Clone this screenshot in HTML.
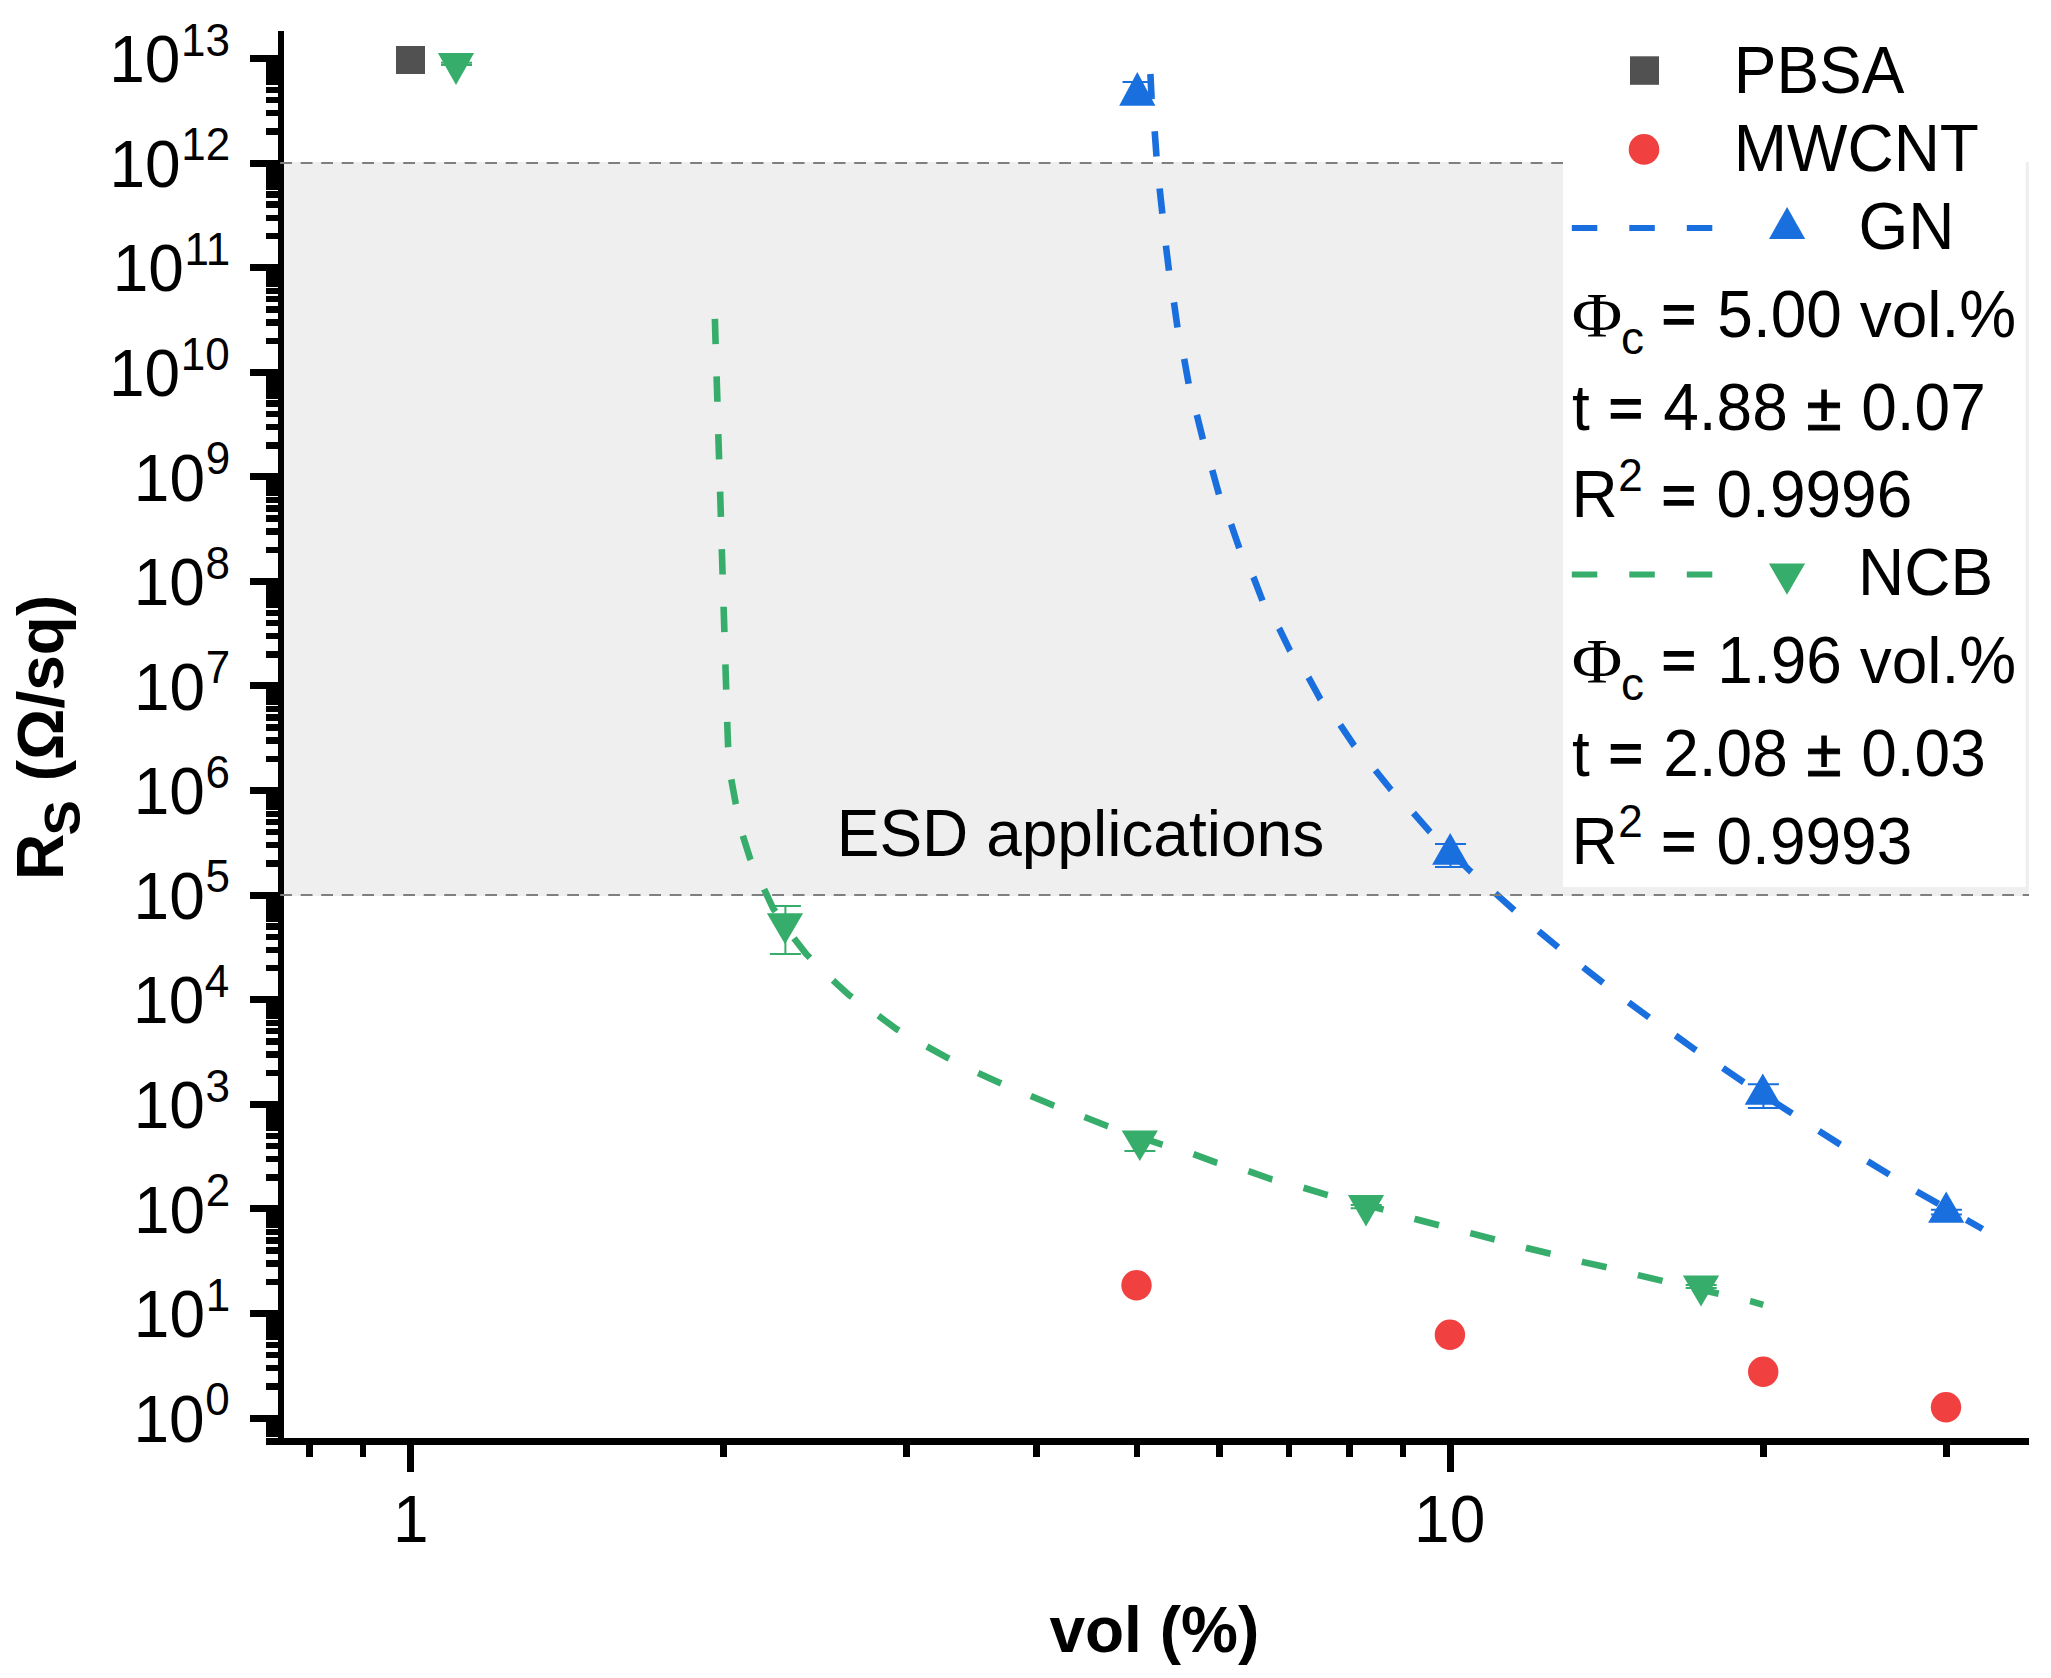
<!DOCTYPE html>
<html lang="en"><head><meta charset="utf-8"><title>Rs vs vol%</title>
<style>
html,body{margin:0;padding:0;background:#fff;}
body{width:2051px;height:1678px;overflow:hidden;}
svg{display:block;}
text{font-family:"Liberation Sans",Arial,sans-serif;fill:#000;}
.b{font-weight:bold;}
.sym{font-family:"Liberation Serif","Times New Roman",serif;}
</style></head><body>
<svg width="2051" height="1678" viewBox="0 0 2051 1678">
<rect x="0" y="0" width="2051" height="1678" fill="#fff"/>
<rect x="284" y="162" width="1745" height="734" fill="#EFEFEF"/>
<path d="M1150.4 74.0 L1151.6 98.0 L1154.7 131.5 L1156.5 156.5 L1159.7 189.1 L1162.4 214.1 L1166.0 246.3 L1169.0 271.0 L1174.0 302.8 L1177.6 328.2 L1184.3 359.6 L1188.7 384.0 L1197.1 415.9 L1203.0 439.7 L1212.6 471.3 L1219.1 494.9 L1231.3 524.9 L1239.4 548.5 L1253.7 577.7 L1262.6 600.9 L1279.6 629.2 L1290.0 650.6 L1308.5 677.4 L1320.4 699.2 L1340.0 724.5 L1354.0 745.4 L1375.0 769.8 L1390.6 789.2 L1413.0 812.5 L1429.8 831.7 L1470.7 871.5 L1496.3 894.1 L1514.6 910.5 L1540.3 932.6 L1559.7 948.6 L1585.9 969.3 L1604.9 984.3 L1630.0 1003.3 L1650.3 1018.3 L1676.2 1036.0 L1695.0 1049.6 L1722.8 1067.9 L1743.7 1082.2 L1791.0 1112.7 L1819.8 1131.6 L1840.0 1144.4 L1868.6 1161.9 L1889.6 1174.7 L1917.4 1191.8 L1982.5 1229.0" fill="none" stroke="#1A6FDF" stroke-width="6.6" stroke-dasharray="25.3 32.12" stroke-linecap="butt" stroke-linejoin="round"/>
<path d="M714.9 318.9 L715.6 344.0 L716.6 376.4 L717.4 401.8 L718.3 434.3 L719.1 459.3 L720.1 491.8 L720.9 516.8 L721.8 549.3 L722.6 574.6 L723.6 607.1 L724.4 631.9 L725.4 664.4 L726.2 689.4 L727.2 721.9 L728.1 746.9 L731.1 778.4 L735.6 802.9 L742.2 833.7 L749.9 858.0 L762.9 886.6 L773.1 908.4 L791.0 934.3 L806.2 954.0 L829.5 977.2 L849.1 995.1 L875.9 1013.9 L896.5 1029.1 L925.6 1045.8 L947.5 1057.8 L977.5 1072.6 L1000.0 1082.9 L1030.4 1095.8 L1053.1 1105.3 L1084.5 1117.0 L1107.2 1126.0 L1162.1 1144.6 L1193.3 1154.1 L1216.4 1162.6 L1248.1 1171.1 L1271.3 1179.2 L1303.0 1187.6 L1326.9 1194.8 L1383.6 1209.7 L1415.1 1219.0 L1440.2 1225.6 L1471.4 1233.4 L1495.8 1239.7 L1526.7 1248.0 L1552.3 1254.1 L1583.5 1262.1 L1608.9 1267.7 L1638.1 1275.1 L1662.5 1280.9 L1719.3 1293.8 L1750.5 1301.1 L1763.2 1304.8" fill="none" stroke="#37AD6B" stroke-width="6.6" stroke-dasharray="25.3 32.3" stroke-linecap="butt" stroke-linejoin="round"/>
<rect x="396" y="46" width="29" height="28" fill="#515151"/>
<circle cx="1136.5" cy="1285.2" r="15.2" fill="#F14040"/>
<circle cx="1449.9" cy="1334.8" r="15.2" fill="#F14040"/>
<circle cx="1763.2" cy="1371.8" r="15.2" fill="#F14040"/>
<circle cx="1946.0" cy="1407.2" r="15.2" fill="#F14040"/>
<path d="M1122.5 82.0 H1153.5 M1122.5 104.0 H1153.5 M1138.0 82.0 V104.0" stroke="#1A6FDF" stroke-width="2" fill="none"/>
<path d="M1137.3 72.0 L1155.4 105.8 L1119.2 105.8 Z" fill="#1A6FDF"/>
<path d="M1435.0 843.9 H1466.0 M1435.0 867.0 H1466.0 M1450.5 843.9 V867.0" stroke="#1A6FDF" stroke-width="2" fill="none"/>
<path d="M1450.2 833.1 L1468.3 864.8 L1432.1 864.8 Z" fill="#1A6FDF"/>
<path d="M1747.9 1084.2 H1778.9 M1747.9 1107.9 H1778.9 M1763.4 1084.2 V1107.9" stroke="#1A6FDF" stroke-width="2" fill="none"/>
<path d="M1762.8 1073.4 L1780.9 1104.7 L1744.7 1104.7 Z" fill="#1A6FDF"/>
<path d="M1930.9 1209.8 H1961.9 M1930.9 1214.6 H1961.9 M1946.4 1209.8 V1214.6" stroke="#1A6FDF" stroke-width="2" fill="none"/>
<path d="M1946.2 1191.5 L1964.3 1222.8 L1928.1 1222.8 Z" fill="#1A6FDF"/>
<path d="M441.0 62.8 H472.0 M441.0 65.0 H472.0 M456.5 62.8 V65.0" stroke="#37AD6B" stroke-width="2" fill="none"/>
<path d="M437.9 53.0 L474.1 53.0 L456.0 84.9 Z" fill="#37AD6B"/>
<path d="M769.9 906.0 H800.9 M769.9 954.0 H800.9 M785.4 906.0 V954.0" stroke="#37AD6B" stroke-width="2" fill="none"/>
<path d="M766.9 913.2 L803.1 913.2 L785.0 944.2 Z" fill="#37AD6B"/>
<path d="M1124.4 1132.0 H1155.4 M1124.4 1150.9 H1155.4 M1139.9 1132.0 V1150.9" stroke="#37AD6B" stroke-width="2" fill="none"/>
<path d="M1121.7 1130.4 L1157.9 1130.4 L1139.8 1160.9 Z" fill="#37AD6B"/>
<path d="M1350.7 1205.0 H1381.7 M1350.7 1208.3 H1381.7 M1366.2 1205.0 V1208.3" stroke="#37AD6B" stroke-width="2" fill="none"/>
<path d="M1347.9 1195.0 L1384.1 1195.0 L1366.0 1226.5 Z" fill="#37AD6B"/>
<path d="M1685.7 1285.0 H1716.7 M1685.7 1288.0 H1716.7 M1701.2 1285.0 V1288.0" stroke="#37AD6B" stroke-width="2" fill="none"/>
<path d="M1682.9 1275.5 L1719.1 1275.5 L1701.0 1306.5 Z" fill="#37AD6B"/>
<text font-size="64" transform="translate(836.75 856.20) scale(1 1.045)">ESD</text>
<text font-size="64" transform="translate(986.14 856.20) scale(1 1)">applications</text>
<g fill="#000" shape-rendering="crispEdges">
<rect x="278" y="31" width="6" height="1414"/>
<rect x="266" y="1438" width="1763" height="7"/>
<rect x="250" y="55.00" width="30" height="7.00"/>
<rect x="266" y="128.35" width="14" height="6.50"/>
<rect x="266" y="109.93" width="14" height="6.50"/>
<rect x="266" y="96.87" width="14" height="6.50"/>
<rect x="266" y="86.73" width="14" height="6.50"/>
<rect x="266" y="78.45" width="14" height="6.50"/>
<rect x="266" y="71.45" width="14" height="6.50"/>
<rect x="266" y="65.38" width="14" height="6.50"/>
<rect x="266" y="60.04" width="14" height="6.50"/>
<rect x="250" y="159.58" width="30" height="7.00"/>
<rect x="266" y="232.93" width="14" height="6.50"/>
<rect x="266" y="214.51" width="14" height="6.50"/>
<rect x="266" y="201.45" width="14" height="6.50"/>
<rect x="266" y="191.31" width="14" height="6.50"/>
<rect x="266" y="183.03" width="14" height="6.50"/>
<rect x="266" y="176.03" width="14" height="6.50"/>
<rect x="266" y="169.96" width="14" height="6.50"/>
<rect x="266" y="164.62" width="14" height="6.50"/>
<rect x="250" y="264.16" width="30" height="7.00"/>
<rect x="266" y="337.51" width="14" height="6.50"/>
<rect x="266" y="319.09" width="14" height="6.50"/>
<rect x="266" y="306.03" width="14" height="6.50"/>
<rect x="266" y="295.89" width="14" height="6.50"/>
<rect x="266" y="287.61" width="14" height="6.50"/>
<rect x="266" y="280.61" width="14" height="6.50"/>
<rect x="266" y="274.54" width="14" height="6.50"/>
<rect x="266" y="269.20" width="14" height="6.50"/>
<rect x="250" y="368.74" width="30" height="7.00"/>
<rect x="266" y="442.09" width="14" height="6.50"/>
<rect x="266" y="423.67" width="14" height="6.50"/>
<rect x="266" y="410.61" width="14" height="6.50"/>
<rect x="266" y="400.47" width="14" height="6.50"/>
<rect x="266" y="392.19" width="14" height="6.50"/>
<rect x="266" y="385.19" width="14" height="6.50"/>
<rect x="266" y="379.12" width="14" height="6.50"/>
<rect x="266" y="373.78" width="14" height="6.50"/>
<rect x="250" y="473.32" width="30" height="7.00"/>
<rect x="266" y="546.67" width="14" height="6.50"/>
<rect x="266" y="528.25" width="14" height="6.50"/>
<rect x="266" y="515.19" width="14" height="6.50"/>
<rect x="266" y="505.05" width="14" height="6.50"/>
<rect x="266" y="496.77" width="14" height="6.50"/>
<rect x="266" y="489.77" width="14" height="6.50"/>
<rect x="266" y="483.70" width="14" height="6.50"/>
<rect x="266" y="478.36" width="14" height="6.50"/>
<rect x="250" y="577.90" width="30" height="7.00"/>
<rect x="266" y="651.25" width="14" height="6.50"/>
<rect x="266" y="632.83" width="14" height="6.50"/>
<rect x="266" y="619.77" width="14" height="6.50"/>
<rect x="266" y="609.63" width="14" height="6.50"/>
<rect x="266" y="601.35" width="14" height="6.50"/>
<rect x="266" y="594.35" width="14" height="6.50"/>
<rect x="266" y="588.28" width="14" height="6.50"/>
<rect x="266" y="582.94" width="14" height="6.50"/>
<rect x="250" y="682.48" width="30" height="7.00"/>
<rect x="266" y="755.83" width="14" height="6.50"/>
<rect x="266" y="737.41" width="14" height="6.50"/>
<rect x="266" y="724.35" width="14" height="6.50"/>
<rect x="266" y="714.21" width="14" height="6.50"/>
<rect x="266" y="705.93" width="14" height="6.50"/>
<rect x="266" y="698.93" width="14" height="6.50"/>
<rect x="266" y="692.86" width="14" height="6.50"/>
<rect x="266" y="687.52" width="14" height="6.50"/>
<rect x="250" y="787.06" width="30" height="7.00"/>
<rect x="266" y="860.41" width="14" height="6.50"/>
<rect x="266" y="841.99" width="14" height="6.50"/>
<rect x="266" y="828.93" width="14" height="6.50"/>
<rect x="266" y="818.79" width="14" height="6.50"/>
<rect x="266" y="810.51" width="14" height="6.50"/>
<rect x="266" y="803.51" width="14" height="6.50"/>
<rect x="266" y="797.44" width="14" height="6.50"/>
<rect x="266" y="792.10" width="14" height="6.50"/>
<rect x="250" y="891.64" width="30" height="7.00"/>
<rect x="266" y="964.99" width="14" height="6.50"/>
<rect x="266" y="946.57" width="14" height="6.50"/>
<rect x="266" y="933.51" width="14" height="6.50"/>
<rect x="266" y="923.37" width="14" height="6.50"/>
<rect x="266" y="915.09" width="14" height="6.50"/>
<rect x="266" y="908.09" width="14" height="6.50"/>
<rect x="266" y="902.02" width="14" height="6.50"/>
<rect x="266" y="896.68" width="14" height="6.50"/>
<rect x="250" y="996.22" width="30" height="7.00"/>
<rect x="266" y="1069.57" width="14" height="6.50"/>
<rect x="266" y="1051.15" width="14" height="6.50"/>
<rect x="266" y="1038.09" width="14" height="6.50"/>
<rect x="266" y="1027.95" width="14" height="6.50"/>
<rect x="266" y="1019.67" width="14" height="6.50"/>
<rect x="266" y="1012.67" width="14" height="6.50"/>
<rect x="266" y="1006.60" width="14" height="6.50"/>
<rect x="266" y="1001.26" width="14" height="6.50"/>
<rect x="250" y="1100.80" width="30" height="7.00"/>
<rect x="266" y="1174.15" width="14" height="6.50"/>
<rect x="266" y="1155.73" width="14" height="6.50"/>
<rect x="266" y="1142.67" width="14" height="6.50"/>
<rect x="266" y="1132.53" width="14" height="6.50"/>
<rect x="266" y="1124.25" width="14" height="6.50"/>
<rect x="266" y="1117.25" width="14" height="6.50"/>
<rect x="266" y="1111.18" width="14" height="6.50"/>
<rect x="266" y="1105.84" width="14" height="6.50"/>
<rect x="250" y="1205.38" width="30" height="7.00"/>
<rect x="266" y="1278.73" width="14" height="6.50"/>
<rect x="266" y="1260.31" width="14" height="6.50"/>
<rect x="266" y="1247.25" width="14" height="6.50"/>
<rect x="266" y="1237.11" width="14" height="6.50"/>
<rect x="266" y="1228.83" width="14" height="6.50"/>
<rect x="266" y="1221.83" width="14" height="6.50"/>
<rect x="266" y="1215.76" width="14" height="6.50"/>
<rect x="266" y="1210.42" width="14" height="6.50"/>
<rect x="250" y="1309.96" width="30" height="7.00"/>
<rect x="266" y="1383.31" width="14" height="6.50"/>
<rect x="266" y="1364.89" width="14" height="6.50"/>
<rect x="266" y="1351.83" width="14" height="6.50"/>
<rect x="266" y="1341.69" width="14" height="6.50"/>
<rect x="266" y="1333.41" width="14" height="6.50"/>
<rect x="266" y="1326.41" width="14" height="6.50"/>
<rect x="266" y="1320.34" width="14" height="6.50"/>
<rect x="266" y="1315.00" width="14" height="6.50"/>
<rect x="250" y="1414.54" width="30" height="7.00"/>
<rect x="266" y="1430.99" width="14" height="6.50"/>
<rect x="266" y="1424.92" width="14" height="6.50"/>
<rect x="266" y="1419.58" width="14" height="6.50"/>
<rect x="306.31" y="1440" width="6.4" height="17"/>
<rect x="359.51" y="1440" width="6.4" height="17"/>
<rect x="407.10" y="1440" width="6.4" height="32"/>
<rect x="720.17" y="1440" width="6.4" height="17"/>
<rect x="903.31" y="1440" width="6.4" height="17"/>
<rect x="1033.24" y="1440" width="6.4" height="17"/>
<rect x="1134.03" y="1440" width="6.4" height="17"/>
<rect x="1216.38" y="1440" width="6.4" height="17"/>
<rect x="1286.00" y="1440" width="6.4" height="17"/>
<rect x="1346.31" y="1440" width="6.4" height="17"/>
<rect x="1399.51" y="1440" width="6.4" height="17"/>
<rect x="1447.10" y="1440" width="6.4" height="32"/>
<rect x="1760.17" y="1440" width="6.4" height="17"/>
<rect x="1943.31" y="1440" width="6.4" height="17"/>
</g>
<path d="M280.2 163 H1563" stroke="#7F7F7F" stroke-width="2" stroke-dasharray="11.8 8.7" fill="none"/>
<path d="M280.2 895 H2029" stroke="#7F7F7F" stroke-width="2" stroke-dasharray="11.8 8.7" fill="none"/>
<rect x="1563" y="30" width="462.6" height="857" fill="#fff"/>
<rect x="1630" y="56.3" width="29" height="28.5" fill="#515151"/>
<text font-size="64" transform="translate(1733.75 92.90) scale(1 1.045)">PBSA</text>
<circle cx="1644" cy="149.4" r="15.3" fill="#F14040"/>
<text font-size="64" transform="translate(1733.75 171.00) scale(1 1.045)">MWCNT</text>
<path d="M1571.8 228 H1717" stroke="#1A6FDF" stroke-width="6" stroke-dasharray="25.5 32" fill="none"/>
<path d="M1787.1 206.9 L1805.2 239.0 L1769.0 239.0 Z" fill="#1A6FDF"/>
<text font-size="64" transform="translate(1858.40 249.20) scale(1 1.045)">GN</text>
<text class="sym" font-size="64" transform="translate(1571.63 336.80) scale(1.08 1)">Φ</text>
<text font-size="46" transform="translate(1620.97 353.60) scale(1 1)">c</text>
<text class="b" font-size="64" transform="translate(1661.37 331.97) scale(0.94 0.82)">=</text>
<text font-size="64" transform="translate(1717.34 336.60) scale(1 1.045)">5.00</text>
<text font-size="64" transform="translate(1859.70 336.60) scale(1 1)">vol.</text>
<text font-size="64" transform="translate(1959.28 336.60) scale(1 1.045)">%</text>
<text font-size="64" transform="translate(1571.88 430.40) scale(1 1)">t</text>
<text class="b" font-size="64" transform="translate(1608.27 425.77) scale(0.94 0.82)">=</text>
<text font-size="64" transform="translate(1663.19 430.40) scale(1 1.045)">4.88</text>
<text font-size="64" transform="translate(1806.45 430.40) scale(1 1.045)" stroke="#000" stroke-width="0.9">±</text>
<text font-size="64" transform="translate(1861.24 430.40) scale(1 1.045)">0.07</text>
<text font-size="64" transform="translate(1571.60 517.30) scale(1 1.045)">R</text>
<text font-size="44" transform="translate(1618.20 490.90) scale(1 1.045)">2</text>
<text class="b" font-size="64" transform="translate(1661.17 512.67) scale(0.94 0.82)">=</text>
<text font-size="64" transform="translate(1716.54 517.30) scale(1 1.045)">0.9996</text>
<path d="M1571.8 574.5 H1717" stroke="#37AD6B" stroke-width="6" stroke-dasharray="25.5 32" fill="none"/>
<path d="M1768.9 563.6 L1805.1 563.6 L1787.0 594.8 Z" fill="#37AD6B"/>
<text font-size="64" transform="translate(1858.05 595.40) scale(1 1.045)">NCB</text>
<text class="sym" font-size="64" transform="translate(1571.63 682.90) scale(1.08 1)">Φ</text>
<text font-size="46" transform="translate(1620.97 699.70) scale(1 1)">c</text>
<text class="b" font-size="64" transform="translate(1661.37 678.07) scale(0.94 0.82)">=</text>
<text font-size="64" transform="translate(1717.34 682.70) scale(1 1.045)">1.96</text>
<text font-size="64" transform="translate(1859.70 682.70) scale(1 1)">vol.</text>
<text font-size="64" transform="translate(1959.28 682.70) scale(1 1.045)">%</text>
<text font-size="64" transform="translate(1571.88 775.60) scale(1 1)">t</text>
<text class="b" font-size="64" transform="translate(1608.27 770.97) scale(0.94 0.82)">=</text>
<text font-size="64" transform="translate(1663.19 775.60) scale(1 1.045)">2.08</text>
<text font-size="64" transform="translate(1806.45 775.60) scale(1 1.045)" stroke="#000" stroke-width="0.9">±</text>
<text font-size="64" transform="translate(1861.24 775.60) scale(1 1.045)">0.03</text>
<text font-size="64" transform="translate(1571.60 863.50) scale(1 1.045)">R</text>
<text font-size="44" transform="translate(1618.20 837.10) scale(1 1.045)">2</text>
<text class="b" font-size="64" transform="translate(1661.17 858.87) scale(0.94 0.82)">=</text>
<text font-size="64" transform="translate(1716.54 863.50) scale(1 1.045)">0.9993</text>
<text font-size="44" transform="translate(181.01 55.80) scale(1 1.045)">13</text>
<text text-anchor="end" font-size="64" transform="translate(180.41 82.20) scale(1 1.045)">10</text>
<text font-size="44" transform="translate(181.27 160.38) scale(1 1.045)">12</text>
<text text-anchor="end" font-size="64" transform="translate(180.67 186.78) scale(1 1.045)">10</text>
<text font-size="44" transform="translate(184.44 264.96) scale(1 1.045)">11</text>
<text text-anchor="end" font-size="64" transform="translate(183.84 291.36) scale(1 1.045)">10</text>
<text font-size="44" transform="translate(180.74 369.54) scale(1 1.045)">10</text>
<text text-anchor="end" font-size="64" transform="translate(180.14 395.94) scale(1 1.045)">10</text>
<text font-size="44" transform="translate(205.65 474.12) scale(1 1.045)">9</text>
<text text-anchor="end" font-size="64" transform="translate(205.05 500.52) scale(1 1.045)">10</text>
<text font-size="44" transform="translate(205.47 578.70) scale(1 1.045)">8</text>
<text text-anchor="end" font-size="64" transform="translate(204.87 605.10) scale(1 1.045)">10</text>
<text font-size="44" transform="translate(205.74 683.28) scale(1 1.045)">7</text>
<text text-anchor="end" font-size="64" transform="translate(205.14 709.68) scale(1 1.045)">10</text>
<text font-size="44" transform="translate(205.47 787.86) scale(1 1.045)">6</text>
<text text-anchor="end" font-size="64" transform="translate(204.87 814.26) scale(1 1.045)">10</text>
<text font-size="44" transform="translate(205.38 892.44) scale(1 1.045)">5</text>
<text text-anchor="end" font-size="64" transform="translate(204.78 918.84) scale(1 1.045)">10</text>
<text font-size="44" transform="translate(204.86 997.02) scale(1 1.045)">4</text>
<text text-anchor="end" font-size="64" transform="translate(204.26 1023.42) scale(1 1.045)">10</text>
<text font-size="44" transform="translate(205.47 1101.60) scale(1 1.045)">3</text>
<text text-anchor="end" font-size="64" transform="translate(204.87 1128.00) scale(1 1.045)">10</text>
<text font-size="44" transform="translate(205.74 1206.18) scale(1 1.045)">2</text>
<text text-anchor="end" font-size="64" transform="translate(205.14 1232.58) scale(1 1.045)">10</text>
<text font-size="44" transform="translate(205.65 1310.76) scale(1 1.045)">1</text>
<text text-anchor="end" font-size="64" transform="translate(205.05 1337.16) scale(1 1.045)">10</text>
<text font-size="44" transform="translate(205.21 1415.34) scale(1 1.045)">0</text>
<text text-anchor="end" font-size="64" transform="translate(204.61 1441.74) scale(1 1.045)">10</text>
<text text-anchor="middle" font-size="64" transform="translate(410.70 1542.30) scale(1 1.045)">1</text>
<text text-anchor="middle" font-size="64" transform="translate(1449.70 1542.30) scale(1 1.045)">10</text>
<text class="b" text-anchor="middle" font-size="64" transform="translate(1154.30 1652.00) scale(1 1)">vol (%)</text>
<text class="b" font-size="64" transform="translate(63.20 880.12) rotate(-90) scale(1 1.045)">R</text>
<text class="b" font-size="48" transform="translate(80.40 835.38) rotate(-90) scale(1.1 1.045)">S</text>
<text class="b" font-size="64" transform="translate(63.20 781.21) rotate(-90) scale(1 1)">(Ω/sq)</text>
</svg></body></html>
